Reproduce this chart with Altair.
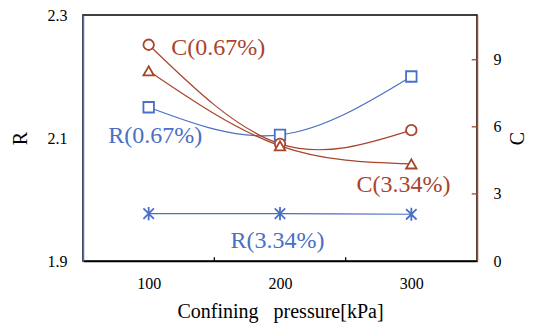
import altair as alt
import pandas as pd

# ---- data ----
pressure = [100, 200, 300]
r_067 = [2.150, 2.105, 2.200]
r_334 = [1.977, 1.977, 1.976]
c_067 = [9.67, 5.24, 5.85]
c_334 = [8.50, 5.15, 4.34]

x_minor_ticks = [150, 250]
c_ticks = [3, 6, 9]

r_label_text = ["R(0.67%)", "R(3.34%)"]
r_label_x = [105, 198]
r_label_y = [2.092, 1.921]
c_label_text = ["C(0.67%)", "C(3.34%)"]
c_label_x = [153, 294]
c_label_y = [9.21, 3.09]

BLUE = "#4a6fc4"
RED = "#a8452b"
FONT = "Liberation Serif"

r_df = pd.DataFrame({
    "p": pressure * 2,
    "v": r_067 + r_334,
    "s": ["R(0.67%)"] * 3 + ["R(3.34%)"] * 3,
})
c_df = pd.DataFrame({
    "p": pressure * 2,
    "v": c_067 + c_334,
    "s": ["C(0.67%)"] * 3 + ["C(3.34%)"] * 3,
})
r_lab = pd.DataFrame({"x": r_label_x, "y": r_label_y, "t": r_label_text})
c_lab = pd.DataFrame({"x": c_label_x, "y": c_label_y, "t": c_label_text})
xt_df = pd.DataFrame({"p": x_minor_ticks})
ct_df = pd.DataFrame({"c": c_ticks})

xscale = alt.Scale(domain=[50, 350], nice=False, zero=False)
r_scale = alt.Scale(domain=[1.9, 2.3], nice=False, zero=False)
c_scale = alt.Scale(domain=[0, 11], nice=False, zero=False)

x_axis = alt.Axis(values=pressure, ticks=False, domainColor="black", domainWidth=1.5,
                  labelFont=FONT, labelFontSize=16, labelColor="black", labelPadding=14,
                  title="Confining\u00a0\u00a0 pressure[kPa]", titleFont=FONT,
                  titleFontSize=20, titleFontWeight="normal", titleColor="black",
                  titlePadding=10, grid=False)
r_axis = alt.Axis(values=[1.9, 2.1, 2.3], format=".1f", ticks=False, domainColor=BLUE,
                  domainWidth=1.5, labelFont=FONT, labelFontSize=16, labelColor="black",
                  labelPadding=16, title="R", titleFont=FONT, titleFontSize=20,
                  titleFontWeight="normal", titleColor="black", titlePadding=17, grid=False)
c_axis = alt.Axis(orient="right", values=[0, 3, 6, 9], ticks=False, domainColor=RED,
                  domainWidth=1.5, labelFont=FONT, labelFontSize=16, labelColor="black",
                  labelPadding=16, title="C", titleFont=FONT, titleFontSize=20,
                  titleFontWeight="normal", titleColor="black", titleAngle=-90,
                  titlePadding=26, grid=False)

X = alt.X("p:Q", scale=xscale, axis=x_axis)

r_lines = alt.Chart(r_df).mark_line(interpolate="natural", color=BLUE, strokeWidth=1.2).encode(
    x=X, y=alt.Y("v:Q", scale=r_scale, axis=r_axis), detail="s:N")
r_pts = alt.Chart(r_df).mark_point(fill="white", fillOpacity=1, stroke=BLUE, strokeWidth=1.8,
                                   size=110, opacity=1).encode(
    x=X, y=alt.Y("v:Q", scale=r_scale, axis=r_axis),
    shape=alt.Shape("s:N", scale=alt.Scale(domain=["R(0.67%)", "R(3.34%)"],
                    range=["square", "M-1,-1L1,1M-1,1L1,-1M0,-1.25L0,1.25"]), legend=None))
r_text = alt.Chart(r_lab).mark_text(font=FONT, fontSize=24, color=BLUE, align="center",
                                    baseline="alphabetic").encode(
    x=alt.X("x:Q", scale=xscale, axis=x_axis),
    y=alt.Y("y:Q", scale=r_scale, axis=r_axis), text="t:N")
x_ticks = alt.Chart(xt_df).mark_rule(color="black", strokeWidth=1.3).encode(
    x=alt.X("p:Q", scale=xscale, axis=x_axis),
    y=alt.Y("a:Q", scale=r_scale, axis=r_axis), y2=alt.datum(1.906)).transform_calculate(a="1.9")

left = alt.layer(r_lines, r_pts, r_text, x_ticks)

c_lines = alt.Chart(c_df).mark_line(interpolate="natural", color=RED, strokeWidth=1.2).encode(
    x=X, y=alt.Y("v:Q", scale=c_scale, axis=c_axis), detail="s:N")
c_pts = alt.Chart(c_df).mark_point(fill="white", fillOpacity=1, stroke=RED, strokeWidth=1.8,
                                   size=110, opacity=1).encode(
    x=X, y=alt.Y("v:Q", scale=c_scale, axis=c_axis),
    shape=alt.Shape("s:N", scale=alt.Scale(domain=["C(0.67%)", "C(3.34%)"],
                    range=["circle", "triangle-up"]), legend=None))
c_text = alt.Chart(c_lab).mark_text(font=FONT, fontSize=24, color=RED, align="center",
                                    baseline="alphabetic").encode(
    x=alt.X("x:Q", scale=xscale, axis=x_axis),
    y=alt.Y("y:Q", scale=c_scale, axis=c_axis), text="t:N")
c_tick_marks = alt.Chart(ct_df).mark_rule(color=RED, strokeWidth=1.3).encode(
    x=alt.X("a:Q", scale=xscale, axis=x_axis), x2=alt.datum(350),
    y=alt.Y("c:Q", scale=c_scale, axis=c_axis)).transform_calculate(a="346")

right = alt.layer(c_lines, c_pts, c_text, c_tick_marks)

chart = alt.layer(left, right).resolve_scale(y="independent", shape="independent").properties(
    width=394, height=246,
    autosize=alt.AutoSizeParams(type="none"),
    padding={"left": 75, "top": 7, "right": 65, "bottom": 64},
    background="white",
).configure_view(stroke="black", strokeWidth=1.5)

chart.save("out.html", embed_options={"renderer": "svg", "actions": False})
